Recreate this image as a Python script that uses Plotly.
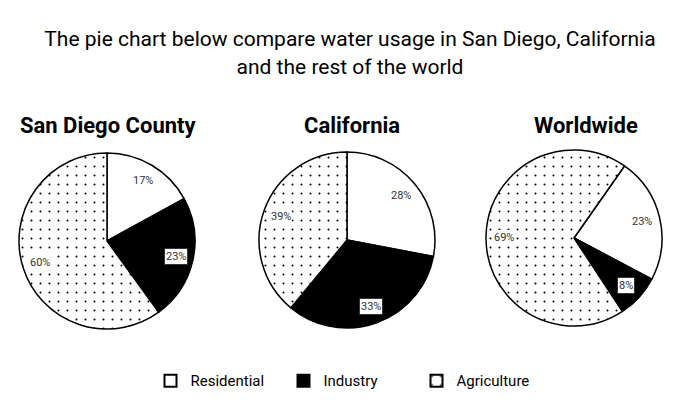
import math
import plotly.graph_objects as go

labels = ["Residential", "Industry", "Agriculture"]
regions = ["San Diego County", "California", "Worldwide"]
san_diego = [17, 23, 60]
california = [28, 33, 39]
worldwide = [23, 8, 69]
rotations = [0, 0, 35]

W, H = 700, 414
fills = ["white", "black", "white"]
patterns = ["", "", "."]
boxed = [False, True, False]

x_domains = [[0.0271, 0.2786], [0.3700, 0.6214], [0.6943, 0.9457]]
y_domains = [[0.2053, 0.6304], [0.2077, 0.6328], [0.2125, 0.6376]]
title_x = [0.154, 0.503, 0.837]

fig = go.Figure()
for i, (name, vals) in enumerate(zip(regions, [san_diego, california, worldwide])):
    fig.add_trace(go.Pie(
        labels=labels, values=vals, name=name,
        sort=False, direction="clockwise", rotation=rotations[i],
        domain=dict(x=x_domains[i], y=y_domains[i]),
        marker=dict(colors=fills, line=dict(color="black", width=1.5),
                    pattern=dict(shape=patterns, fgcolor="black", bgcolor="white",
                                 size=9, solidity=0.04)),
        textinfo="none",
        showlegend=(i == 0), hoverinfo="label+value",
    ))
    fig.add_annotation(text=f"<b>{name}</b>", x=title_x[i], y=1 - 125 / H,
                       xref="paper", yref="paper", xanchor="center", yanchor="middle",
                       showarrow=False, font=dict(size=22, family="Roboto", color="black"))
    # percentage labels placed at slice mid-angles derived from the values
    cx = (x_domains[i][0] + x_domains[i][1]) / 2
    cy = (y_domains[i][0] + y_domains[i][1]) / 2
    r_px = min((x_domains[i][1] - x_domains[i][0]) * W, (y_domains[i][1] - y_domains[i][0]) * H) / 2
    total = sum(vals)
    cum = 0
    for j, v in enumerate(vals):
        ang = math.radians(rotations[i] + (cum + v / 2) / total * 360)
        cum += v
        fig.add_annotation(
            text=f"{v}%", x=cx + 0.8 * r_px * math.sin(ang) / W,
            y=cy + 0.8 * r_px * math.cos(ang) / H,
            xref="paper", yref="paper", xanchor="center", yanchor="middle",
            showarrow=False, font=dict(size=11, family="Roboto", color="#333333"),
            bgcolor="white",
            bordercolor="#333333" if boxed[j] else "rgba(0,0,0,0)",
            borderwidth=1 if boxed[j] else 0, borderpad=1,
        )

fig.update_layout(
    width=W, height=H,
    margin=dict(l=0, r=0, t=0, b=0),
    paper_bgcolor="white", plot_bgcolor="white",
    font=dict(family="Roboto", color="black"),
    title=dict(text="The pie chart below compare water usage in San Diego, California<br>and the rest of the world",
               x=0.5, xanchor="center", y=0.888, yanchor="top",
               font=dict(size=21, family="Roboto", color="black")),
    legend=dict(orientation="h", x=0.5, xanchor="center", y=0.08, yanchor="middle",
                font=dict(size=15, family="Roboto", color="black"),
                itemsizing="constant", entrywidth=88),
)

fig.write_html("out.html", config={"displayModeBar": False},
               post_script="document.body.style.margin='0';")
